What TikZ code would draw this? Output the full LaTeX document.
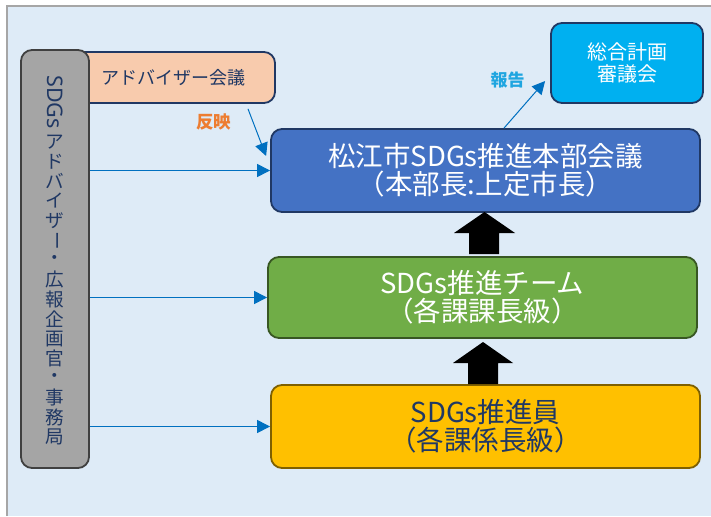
\documentclass[tikz,border=0pt]{standalone}
\usepackage{fontspec}
\setmainfont{Noto Sans CJK JP}
\newfontfamily\latinf{Noto Sans}
\usetikzlibrary{arrows.meta,calc}
\definecolor{bgblue}{HTML}{DEEBF7}
\definecolor{framegrey}{HTML}{A6A6A6}
\definecolor{navy}{HTML}{203864}
\definecolor{peach}{HTML}{F8CBAD}
\definecolor{greyfill}{HTML}{A5A5A5}
\definecolor{greyline}{HTML}{404040}
\definecolor{mainblue}{HTML}{4472C4}
\definecolor{cyanf}{HTML}{00B0F0}
\definecolor{greenf}{HTML}{70AD47}
\definecolor{greenline}{HTML}{385723}
\definecolor{yelf}{HTML}{FFC000}
\definecolor{yelline}{HTML}{7F6000}
\definecolor{arrblue}{HTML}{0070C0}
\definecolor{orangec}{HTML}{ED7D31}
\definecolor{hokokuc}{HTML}{1FA5E0}
\begin{document}
\begin{tikzpicture}[x=1pt,y=-1pt,
  rbox/.style={draw=navy, line width=1.8pt, rounded corners=11pt, inner sep=0pt, align=center},
  conn/.style={draw=arrblue, line width=1pt, -{Triangle[length=13pt,width=13pt]}},
  blockarrow/.style={fill=black},
  bigtxt/.style={font=\fontsize{27.5}{28}\selectfont},
  vtxt/.style={text=navy, inner sep=0pt, font=\fontsize{18.6}{18.6}\selectfont}]
\useasboundingbox (0,0) rectangle (711,516);
\fill[white] (0,0) rectangle (711,516);
\fill[bgblue] (7,6) rectangle (711,516);
\draw[framegrey, line width=2pt] (7,516) -- (7,6) -- (711,6);

% boxes
\node[rbox, fill=peach, text=navy, minimum width=203pt, minimum height=51pt,
      font=\fontsize{18}{20}\selectfont] (adv) at (173.5,77.5) {アドバイザー会議};
\node[rbox, draw=greyline, fill=greyfill, minimum width=68pt, minimum height=418pt] (sec) at (55,259) {};
\node[text=navy, inner sep=0pt, rotate=-90, font=\fontsize{21.5}{22}\selectfont] (vt0) at (55,102) {{\latinf SDGs}};
\foreach \c [count=\i] in {ア,ド,バ,イ,ザ,{\rotatebox{-90}{ー}},・,広,報,企,画,官,・,事,務,局}
  \node[vtxt] (vt\i) at (55,{132+9.85+(\i-1)*19.7}) {\c};

\node[rbox, fill=mainblue, text=white, minimum width=429pt, minimum height=83pt, bigtxt]
  (main) at (485.5,170.5) {松江市SDGs推進本部会議\\（本部長:上定市長）};
\node[rbox, draw=greenline, fill=greenf, text=white, minimum width=429pt, minimum height=81pt, bigtxt]
  (team) at (482.5,297.5) {SDGs推進チーム\\（各課課長級）};
\node[rbox, draw=yelline, fill=yelf, text=navy, minimum width=429pt, minimum height=83pt, bigtxt]
  (member) at (485.5,426.5) {SDGs推進員\\（各課係長級）};
\node[rbox, fill=cyanf, text=white, minimum width=152pt, minimum height=80pt,
      font=\fontsize{20}{22}\selectfont] (shingi) at (627,63) {総合計画\\審議会};

% labels
\node[text=orangec, font=\bfseries\fontsize{17.5}{18}\selectfont] (hanei) at (213.5,121.5) {反映};
\node[text=hokokuc, font=\bfseries\fontsize{17}{18}\selectfont] (hokoku) at (507.5,80) {報告};

% connectors
\draw[conn] (sec.east |- main.west) -- (main.west);
\draw[conn] (sec.east |- team.west) -- (team.west);
\draw[conn] (sec.east |- member.west) -- (member.west);
\draw[conn] ($(adv.south)+(74.5,5)$) -- ($(main.west)+(-4,-14.5)$);
\draw[conn] ($(main.north)+(18.5,0)$) -- ($(shingi.west)+(-5,18)$);

% block arrows
\fill[blockarrow] (469,254) -- (469,233) -- (454,233) -- (484.5,212) -- (515,233) -- (499,233) -- (499,254) -- cycle;
\fill[blockarrow] (468,384) -- (468,363) -- (453,363) -- (483,342) -- (513,363) -- (498,363) -- (498,384) -- cycle;
\end{tikzpicture}
\end{document}
